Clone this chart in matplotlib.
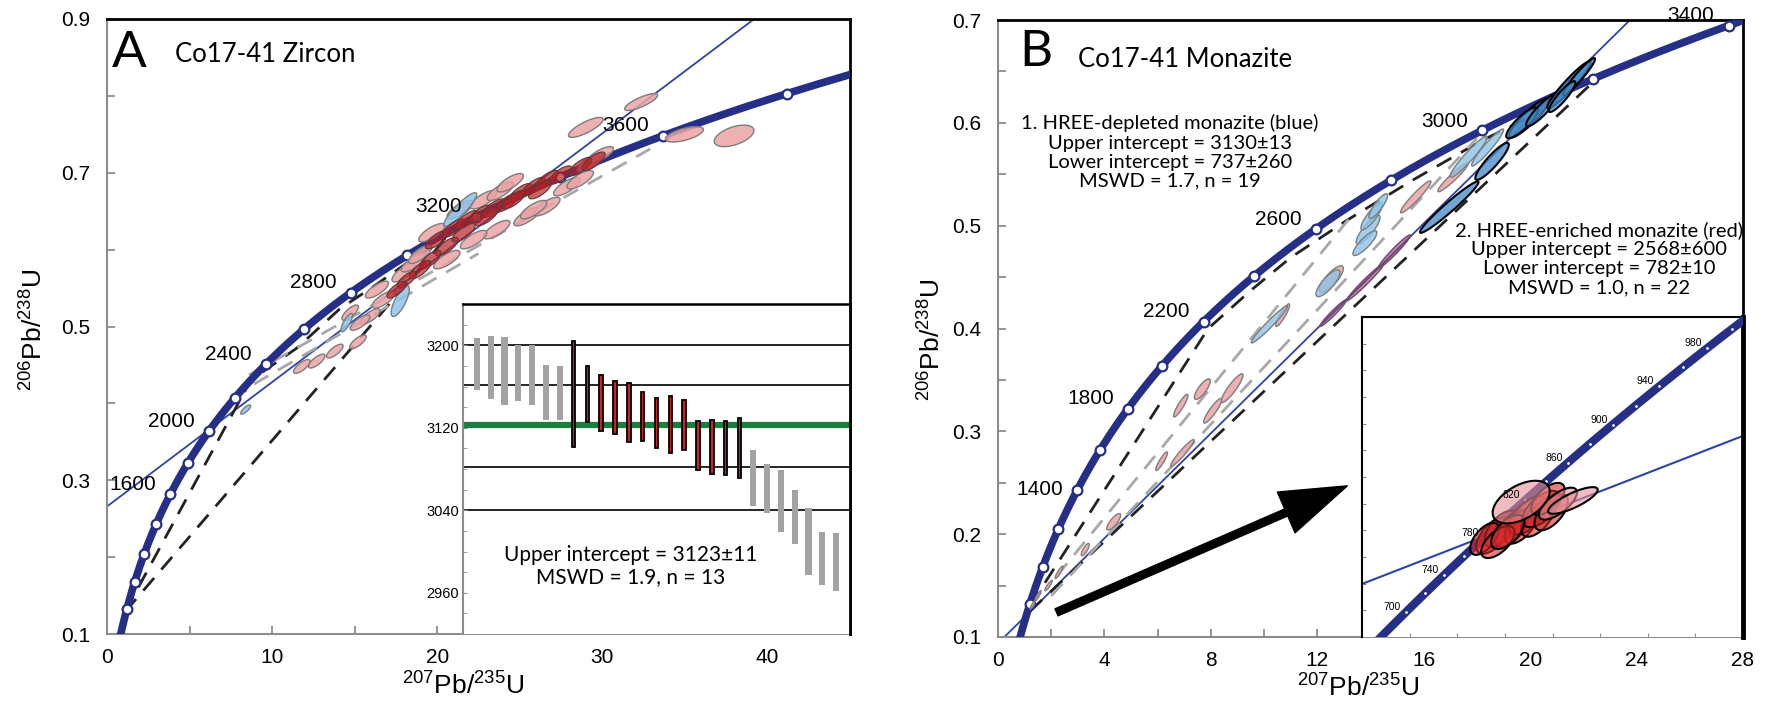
import numpy as np
import matplotlib
matplotlib.use("Agg")
import matplotlib.pyplot as plt
from matplotlib.colors import to_rgba

plt.rcParams['font.family'] = ['Liberation Sans', 'DejaVu Sans']
plt.rcParams['mathtext.fontset'] = 'custom'
plt.rcParams['mathtext.rm'] = 'Liberation Sans'
plt.rcParams['mathtext.it'] = 'Liberation Sans:italic'

# decay constants, per Ma
L238 = 1.55125e-4
L235 = 9.8485e-4

# ---------------- panel A : zircon ----------------
concA_ages = [800, 1000, 1200, 1400, 1600, 1800, 2000, 2200, 2400, 2600,
              2800, 3000, 3200, 3400, 3600, 3800]
concA_labels = [1600, 2000, 2400, 2800, 3200, 3600]
discA_ages = [2020, 3310]

# rows: 207Pb/235U, 1s, 206Pb/238U, 1s, rho
zr_pink = [
    (32.35, 1.00, 0.792, 0.011, 0.80), (29.00, 1.05, 0.759, 0.013, 0.80),
    (34.97, 1.15, 0.750, 0.010, 0.60), (37.98, 1.20, 0.748, 0.014, 0.50),
    (16.35, 0.70, 0.548, 0.011, 0.75), (16.75, 0.70, 0.535, 0.011, 0.75),
    (15.94, 0.60, 0.513, 0.010, 0.75), (17.96, 0.70, 0.570, 0.012, 0.75),
    (18.57, 0.75, 0.583, 0.012, 0.75), (19.68, 0.80, 0.622, 0.012, 0.75),
    (21.39, 0.80, 0.652, 0.012, 0.75), (22.80, 0.80, 0.665, 0.012, 0.75),
    (23.82, 0.80, 0.676, 0.012, 0.75), (24.42, 0.80, 0.687, 0.012, 0.75),
    (25.44, 0.80, 0.643, 0.012, 0.75), (23.60, 0.80, 0.626, 0.012, 0.75),
    (26.64, 0.80, 0.656, 0.012, 0.75), (27.85, 0.80, 0.682, 0.012, 0.75),
    (28.66, 0.80, 0.691, 0.012, 0.75), (29.27, 0.80, 0.713, 0.012, 0.75),
    (29.87, 0.80, 0.723, 0.011, 0.75), (22.20, 0.80, 0.613, 0.012, 0.75),
    (20.58, 0.80, 0.587, 0.012, 0.75), (18.97, 0.70, 0.594, 0.012, 0.75),
    (25.84, 0.80, 0.652, 0.012, 0.75), (15.33, 0.60, 0.505, 0.010, 0.75),
    (14.73, 0.50, 0.518, 0.010, 0.75), (12.70, 0.50, 0.455, 0.009, 0.75),
    (13.80, 0.50, 0.468, 0.009, 0.75), (15.20, 0.50, 0.480, 0.009, 0.75),
    (11.80, 0.50, 0.448, 0.009, 0.75),
]
zr_red = [
    (19.98, 0.70, 0.613, 0.012, 0.75), (20.99, 0.70, 0.628, 0.012, 0.75),
    (21.80, 0.70, 0.639, 0.012, 0.75), (22.60, 0.70, 0.646, 0.012, 0.75),
    (23.40, 0.70, 0.654, 0.012, 0.75), (24.22, 0.70, 0.661, 0.012, 0.75),
    (25.03, 0.70, 0.674, 0.012, 0.75), (25.84, 0.70, 0.682, 0.012, 0.75),
    (26.64, 0.70, 0.691, 0.012, 0.75), (27.45, 0.70, 0.697, 0.012, 0.75),
    (28.66, 0.70, 0.708, 0.012, 0.75), (29.47, 0.70, 0.715, 0.012, 0.75),
    (20.58, 0.70, 0.604, 0.012, 0.75), (21.60, 0.70, 0.622, 0.012, 0.75),
    (23.00, 0.70, 0.643, 0.012, 0.75), (24.63, 0.70, 0.665, 0.012, 0.75),
    (26.24, 0.70, 0.678, 0.012, 0.75), (19.58, 0.65, 0.587, 0.012, 0.75),
    (18.97, 0.65, 0.574, 0.012, 0.75), (18.16, 0.60, 0.561, 0.011, 0.75),
    (17.55, 0.60, 0.548, 0.011, 0.75),
]
zr_blue = [
    (21.39, 1.00, 0.652, 0.022, 0.90), (17.76, 0.55, 0.533, 0.020, 0.75),
    (14.52, 0.35, 0.505, 0.012, 0.80), (8.40, 0.30, 0.392, 0.006, 0.80),
]

dashA1_x = [1.1, 8.7, 11.5, 14.1, 16.0, 18.0, 20.5]
dashA1_y = [0.129, 0.430, 0.472, 0.523, 0.550, 0.580, 0.615]
dashA2_x = [1.1, 21.0]
dashA2_y = [0.129, 0.627]
grayA1_x = [8.6, 32.9]
grayA1_y = [0.437, 0.731]
grayA2_x = [8.9, 22.5]
grayA2_y = [0.425, 0.595]

# inset A: 207Pb/206Pb ages, 2s
zr_age_hi = [3207, 3209, 3208, 3200, 3200, 3181, 3180, 3204, 3180, 3171, 3165, 3163, 3155, 3149,
             3151, 3147, 3127, 3128, 3127, 3129, 3098, 3085, 3079, 3060, 3042, 3019, 3018]
zr_age_lo = [3157, 3148, 3142, 3146, 3142, 3128, 3128, 3101, 3126, 3117, 3114, 3106, 3107, 3100,
             3096, 3098, 3079, 3075, 3074, 3071, 3044, 3037, 3019, 3007, 2977, 2968, 2962]
zr_used = [0] * 7 + [1] * 13 + [0] * 7
zr_mean = 3123
zr_grid = [3200, 3161, 3082, 3040]

# ---------------- panel B : monazite ----------------
concB_ages = [800, 1000, 1200, 1400, 1600, 1800, 2000, 2200, 2400, 2600,
              2800, 3000, 3200, 3400]
concB_labels = [1400, 1800, 2200, 2600, 3000, 3400]
concB_label_dy = [-1, -10, -10, -9, -9, -10]
discB_blue = [737, 3130]
discB_red = [782, 2568]

mz_pink = [
    (10.70, 0.26, 0.413, 0.011, 0.90), (7.68, 0.30, 0.341, 0.010, 0.80),
    (6.87, 0.27, 0.325, 0.011, 0.90), (8.80, 0.41, 0.342, 0.014, 0.90),
    (8.07, 0.34, 0.320, 0.012, 0.90), (6.15, 0.22, 0.271, 0.009, 0.90),
    (6.93, 0.44, 0.279, 0.013, 0.95), (4.35, 0.26, 0.212, 0.008, 0.80),
    (3.28, 0.15, 0.185, 0.006, 0.80), (12.53, 0.45, 0.448, 0.013, 0.80),
    (15.70, 0.57, 0.528, 0.0155, 0.95), (17.10, 0.57, 0.547, 0.014, 0.95),
    (1.50, 0.12, 0.140, 0.005, 0.90), (1.90, 0.14, 0.150, 0.005, 0.90),
    (2.30, 0.15, 0.163, 0.006, 0.90), (1.30, 0.10, 0.131, 0.004, 0.90),
]
mz_purple = [
    (12.60, 0.50, 0.415, 0.013, 0.97), (13.80, 0.70, 0.445, 0.018, 0.98),
    (14.90, 0.60, 0.475, 0.016, 0.97),
]
mz_blue_light = [
    (10.20, 0.68, 0.404, 0.018, 0.97), (12.40, 0.45, 0.444, 0.013, 0.80),
    (13.91, 0.45, 0.496, 0.014, 0.85), (14.04, 0.40, 0.509, 0.013, 0.85),
    (13.79, 0.45, 0.483, 0.012, 0.85), (14.29, 0.35, 0.519, 0.012, 0.85),
    (17.69, 0.70, 0.567, 0.020, 0.95), (18.40, 0.60, 0.576, 0.018, 0.95),
]
mz_blue_dark = [
    (16.96, 1.10, 0.518, 0.025, 0.97), (18.57, 0.63, 0.5625, 0.018, 0.90),
    (19.95, 0.75, 0.6045, 0.019, 0.90), (19.70, 0.60, 0.600, 0.015, 0.85),
    (20.45, 0.60, 0.6126, 0.016, 0.90), (21.46, 0.82, 0.637, 0.023, 0.95),
    (21.84, 0.60, 0.645, 0.018, 0.95), (21.20, 0.50, 0.6255, 0.015, 0.90),
]

dashB1_x = [1.2, 7.9, 9.5, 11.0, 13.1, 15.5, 18.2, 20.5]
dashB1_y = [0.130, 0.400, 0.437, 0.469, 0.505, 0.543, 0.583, 0.612]
dashB2_x = [1.2, 22.3]
dashB2_y = [0.125, 0.638]
grayB1_x = [2.2, 13.3]
grayB1_y = [0.159, 0.510]
grayB2_x = [2.0, 18.0]
grayB2_y = [0.140, 0.585]

# inset B: HREE-enriched monazite
mz_red = [
    (1.1748, 0.035, 0.1290, 0.0034, 0.6), (1.1923, 0.035, 0.1303, 0.0034, 0.6),
    (1.2133, 0.035, 0.1303, 0.0034, 0.6), (1.2343, 0.035, 0.1309, 0.0034, 0.6),
    (1.2483, 0.040, 0.1328, 0.0036, 0.6), (1.2693, 0.035, 0.1322, 0.0034, 0.6),
    (1.2763, 0.040, 0.1340, 0.0034, 0.6), (1.2973, 0.035, 0.1334, 0.0034, 0.6),
    (1.2903, 0.035, 0.1359, 0.0030, 0.6), (1.1573, 0.030, 0.1284, 0.0030, 0.6),
    (1.1853, 0.035, 0.1278, 0.0030, 0.6), (1.2063, 0.035, 0.1297, 0.0032, 0.6),
]
mz_red_light = [
    (1.3113, 0.040, 0.1350, 0.0030, 0.7), (1.3429, 0.052, 0.1356, 0.0025, 0.8),
    (1.2343, 0.060, 0.1353, 0.0040, 0.5),
]
inset_dot_ages = [700, 720, 740, 760, 780, 800, 820, 840, 860, 880, 900, 920, 940, 960, 980, 1000]
inset_label_ages = [700, 740, 780, 820, 860, 900, 940, 980]

NAVY = '#262f86'
THIN = '#2d44a6'
GRAY = '#8c8c8c'


def conc(t):
    t = np.asarray(t, float)
    return np.exp(L235 * t) - 1, np.exp(L238 * t) - 1


def draw_ellipses(ax, rows, fc, ec, alpha, lw=1.0, z=4):
    t = np.linspace(0, 2 * np.pi, 90)
    for x, sx, y, sy, rho in rows:
        ex = x + sx * np.cos(t)
        ey = y + sy * (rho * np.cos(t) + np.sqrt(1 - rho ** 2) * np.sin(t))
        ax.fill(ex, ey, facecolor=to_rgba(fc, alpha), edgecolor=ec, lw=lw, zorder=z)


def chord(ages):
    x, y = conc(ages)
    slope = (y[1] - y[0]) / (x[1] - x[0])
    return slope, y[0] - slope * x[0]


def style_main(ax):
    for s in ['left', 'bottom']:
        ax.spines[s].set_color(GRAY)
        ax.spines[s].set_linewidth(1.5)
    for s in ['top', 'right']:
        ax.spines[s].set_color('black')
        ax.spines[s].set_linewidth(2)
    ax.tick_params(direction='in', length=6, width=1.3, color=GRAY, labelsize=15)
    ax.tick_params(axis='y', pad=12)
    ax.tick_params(axis='x', pad=10)


def concordia(ax, t0, t1, ages, labels, dy):
    tt = np.linspace(t0, t1, 400)
    cx, cy = conc(tt)
    ax.plot(cx, cy, color=NAVY, lw=5.5, zorder=3, solid_capstyle='butt')
    mx, my = conc(ages)
    ax.plot(mx, my, 'o', ms=7, mfc='white', mec=NAVY, mew=1.6, zorder=3)
    for a, d in zip(labels, dy):
        lx, ly = conc(a)
        ax.annotate(str(a), (lx, ly), xytext=(-27, -d * 0.72), textcoords='offset points',
                    ha='center', va='center', fontsize=15, zorder=6)


fig = plt.figure(figsize=(17.66, 7.02), dpi=100)
W, H = 1766, 702

# ---------- A ----------
axA = fig.add_axes([107 / W, 1 - 634 / H, 743 / W, 615 / H])
axA.set_xlim(0, 45)
axA.set_ylim(0.1, 0.9)
style_main(axA)
axA.set_xticks(np.arange(0, 46, 5))
axA.set_xticklabels(['0', '', '10', '', '20', '', '30', '', '40', ''])
axA.set_yticks(np.arange(0.1, 0.91, 0.1))
axA.set_yticklabels(['0.1', '', '0.3', '', '0.5', '', '0.7', '', '0.9'])

s, b = chord(discA_ages)
axA.plot([0, 45], [b, b + 45 * s], color=THIN, lw=1.3, zorder=2)
axA.plot(dashA1_x, dashA1_y, color='#222222', lw=2, dashes=(6, 4), zorder=2)
axA.plot(dashA2_x, dashA2_y, color='#222222', lw=2, dashes=(6, 4), zorder=2)
axA.plot(grayA1_x, grayA1_y, color='#a8a8a8', lw=2, dashes=(6, 4), zorder=2)
axA.plot(grayA2_x, grayA2_y, color='#a8a8a8', lw=2, dashes=(6, 4), zorder=2)
concordia(axA, 500, 3950, concA_ages, concA_labels, [-10] * 6)
draw_ellipses(axA, zr_pink, '#eba2a4', '#7d7d7d', 0.85)
draw_ellipses(axA, zr_blue, '#8cc4ea', '#7d7d7d', 0.85)
draw_ellipses(axA, zr_red, '#b81f24', '#5a3a3a', 0.7, lw=0.8)

axA.text(0.007, 0.945, 'A', transform=axA.transAxes, fontsize=37, family='Lato',
         ha='left', va='center')
axA.text(0.092, 0.943, 'Co17-41 Zircon', transform=axA.transAxes, fontsize=18.5,
         family='Lato', ha='left', va='center')

fig.text(34 / W, 1 - 330 / H, r'$^{206}$Pb/$^{238}$U', rotation=90, fontsize=19,
         ha='center', va='center')
fig.text(463 / W, 1 - 686 / H, r'$^{207}$Pb/$^{235}$U', fontsize=19,
         ha='center', va='center')

# inset A
inA = fig.add_axes([463 / W, 1 - 634 / H, 387 / W, 330 / H], zorder=5)
inA.set_facecolor('white')
inA.set_xlim(0, 28)
inA.set_ylim(2920, 3240)
inA.spines['bottom'].set_visible(False)
inA.spines['left'].set_color(GRAY)
inA.spines['left'].set_linewidth(1.5)
inA.spines['top'].set_linewidth(1.8)
inA.spines['right'].set_linewidth(2)
inA.set_xticks([])
inA.set_yticks(np.arange(2940, 3240, 20), minor=True)
inA.set_yticks([2960, 3040, 3120, 3200])
inA.tick_params(axis='y', which='both', direction='in', length=3, color=GRAY,
                labelsize=10.5, pad=3)
for g in zr_grid:
    inA.axhline(g, color='black', lw=1.2, zorder=1)
inA.axhline(zr_mean, color='#17803d', lw=4.5, zorder=2)
xs = np.arange(1, len(zr_age_hi) + 1)
for xi, hi, lo, u in zip(xs, zr_age_hi, zr_age_lo, zr_used):
    if u:
        inA.bar(xi, hi - lo, bottom=lo, width=0.25, color='#d42020', edgecolor='black',
                lw=1.3, zorder=3)
    else:
        inA.bar(xi, hi - lo, bottom=lo, width=0.44, color='#a3a3a3', lw=0, zorder=3)
inA.text(12.1, 2986, 'Upper intercept = 3123\u00b111\nMSWD = 1.9, n = 13', family='Lato',
         fontsize=15, ha='center', va='center', linespacing=1.15)

# ---------- B ----------
axB = fig.add_axes([998 / W, 1 - 637 / H, 745 / W, 617 / H])
axB.set_xlim(0, 28)
axB.set_ylim(0.1, 0.7)
style_main(axB)
axB.set_xticks(np.arange(0, 29, 2))
axB.set_xticklabels([str(v) if v % 4 == 0 else '' for v in range(0, 29, 2)])
axB.set_yticks(np.arange(0.1, 0.71, 0.05))
axB.set_yticklabels(['0.1', '', '0.2', '', '0.3', '', '0.4', '', '0.5', '', '0.6', '', '0.7'])

s, b = chord(discB_blue)
axB.plot([0, 28], [b, b + 28 * s], color=THIN, lw=1.3, zorder=2)
axB.plot(dashB1_x, dashB1_y, color='#222222', lw=2, dashes=(6, 4), zorder=2)
axB.plot(dashB2_x, dashB2_y, color='#222222', lw=2, dashes=(6, 4), zorder=2)
axB.plot(grayB1_x, grayB1_y, color='#a8a8a8', lw=2, dashes=(6, 4), zorder=2)
axB.plot(grayB2_x, grayB2_y, color='#a8a8a8', lw=2, dashes=(6, 4), zorder=2)
concordia(axB, 500, 3450, concB_ages, concB_labels, concB_label_dy)
draw_ellipses(axB, mz_pink, '#eba2a4', '#7d7d7d', 0.85)
draw_ellipses(axB, mz_purple, '#9c3a6e', '#6a4a6a', 0.6)
draw_ellipses(axB, mz_blue_light, '#8cc4ea', '#7d7d7d', 0.8)
draw_ellipses(axB, mz_blue_dark, '#3f88c8', 'black', 0.75, lw=1.5)

axB.annotate('', xy=(13.13, 0.247), xytext=(2.2, 0.124),
             arrowprops=dict(facecolor='black', edgecolor='black', width=5.5,
                             headwidth=32, headlength=48), zorder=6)

axB.text(0.028, 0.948, 'B', transform=axB.transAxes, fontsize=37, family='Lato',
         ha='left', va='center')
axB.text(0.107, 0.936, 'Co17-41 Monazite', transform=axB.transAxes, fontsize=18.5,
         family='Lato', ha='left', va='center')
axB.text(0.231, 0.786, '1. HREE-depleted monazite (blue)\nUpper intercept = 3130\u00b113\n'
         'Lower intercept = 737\u00b1260\nMSWD = 1.7, n = 19', transform=axB.transAxes,
         family='Lato', fontsize=14.5, ha='center', va='center', linespacing=1.15, zorder=7)
axB.text(0.807, 0.613, '2. HREE-enriched monazite (red)\nUpper intercept = 2568\u00b1600\n'
         'Lower intercept = 782\u00b110\nMSWD = 1.0, n = 22', transform=axB.transAxes,
         family='Lato', fontsize=14.5, ha='center', va='center', linespacing=1.15, zorder=7)

fig.text(932 / W, 1 - 340 / H, r'$^{206}$Pb/$^{238}$U', rotation=90, fontsize=19,
         ha='center', va='center')
fig.text(1358 / W, 1 - 688 / H, r'$^{207}$Pb/$^{235}$U', fontsize=19,
         ha='center', va='center')

# inset B
inB = fig.add_axes([1362 / W, 1 - 637 / H, 381 / W, 320 / H], zorder=5)
inB.set_facecolor('white')
inB.set_xlim(0.9, 1.7)
inB.set_ylim(0.11, 0.17)
inB.spines['bottom'].set_visible(False)
inB.spines['left'].set_linewidth(1.5)
inB.spines['top'].set_linewidth(1.5)
inB.spines['right'].set_linewidth(3.5)
inB.set_xticks(np.arange(1.0, 1.7, 0.1))
inB.set_yticks(np.arange(0.115, 0.17, 0.005))
inB.tick_params(direction='in', length=3, color=GRAY, labelbottom=False, labelleft=False)
s, b = chord(discB_red)
inB.plot([0.9, 1.7], [b + 0.9 * s, b + 1.7 * s], color=THIN, lw=1.5, zorder=2)
tt = np.linspace(600, 1050, 200)
cx, cy = conc(tt)
inB.plot(cx, cy, color=NAVY, lw=6, zorder=3)
dx, dy_ = conc(inset_dot_ages)
inB.plot(dx, dy_, 'o', ms=2, mfc='white', mec='none', zorder=4)
for a in inset_label_ages:
    lx, ly = conc(a)
    inB.annotate(str(a), (lx, ly), xytext=(-10, 3.6), textcoords='offset points',
                 ha='center', va='center', fontsize=7.5, zorder=6)
draw_ellipses(inB, mz_red, '#d42a2a', 'black', 0.6, lw=1.5, z=5)
draw_ellipses(inB, mz_red_light, '#e89096', 'black', 0.6, lw=1.5, z=5)

fig.savefig('out.png', dpi=100)
